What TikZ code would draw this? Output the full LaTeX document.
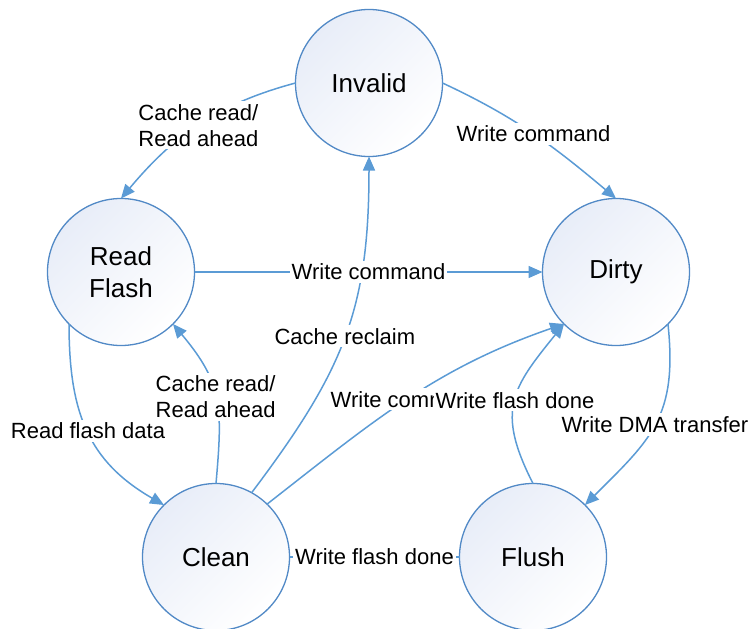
\documentclass[tikz,border=0pt]{standalone}
\usepackage{fontspec}
\setmainfont{Liberation Sans}
\usetikzlibrary{arrows.meta}
\definecolor{edgeblue}{HTML}{5B9BD5}
\definecolor{ringblue}{HTML}{5189C6}
\definecolor{fillblue}{HTML}{E8EDF8}

\begin{document}
\begin{tikzpicture}[x=1pt,y=1pt,
  state/.style={circle, draw=ringblue, line width=1.3pt, minimum size=147pt,
    inner sep=0pt, outer sep=0pt, top color=fillblue, bottom color=white,
    shading angle=45, font=\fontsize{26}{32}\selectfont, align=center},
  trans/.style={draw=edgeblue, line width=1.5pt, -{Triangle[length=14pt,width=12pt]}},
  link/.style={draw=edgeblue, line width=1.5pt},
  lbl/.style={fill=white, inner xsep=2pt, inner ysep=3pt,
    font=\fontsize{22}{26}\selectfont, align=center}]

\useasboundingbox (0,0) rectangle (753,-629);

% cache line states
\node[state] (inv) at (369,-83)  {Invalid};
\node[state] (rf)  at (121,-272) {Read\\Flash};
\node[state] (dt)  at (616,-272) {Dirty};
\node[state] (cl)  at (216,-557) {Clean};
\node[state] (fl)  at (533,-557) {Flush};

% transitions
\draw[trans] (inv.180) to[out=195,in=50] coordinate[midway] (m1) (rf.90);
\draw[trans] (inv.0) to[out=-25,in=140] coordinate[midway] (m2) (dt.90);
\draw[trans] (rf.east) -- coordinate[midway] (m3) (dt.west);
\draw[trans] (rf.225) to[out=270,in=150,looseness=1.1] coordinate[midway] (m4) (cl.135);
\draw[trans] (cl.90) to[out=85,in=-50,looseness=1.2] coordinate[midway] (m5) (rf.-45);
\draw[trans] (cl.61) to[out=53,in=270,looseness=1.1] coordinate[midway] (m6) (inv.270);
\draw[trans] (cl.46) to[out=38,in=199] coordinate[midway] (m7) (dt.225);
\draw[trans] (fl.90) to[out=117,in=231,looseness=1.3] coordinate[midway] (m8) (dt.225);
\draw[trans] (dt.-45) to[out=276,in=45,looseness=1.2] coordinate[midway] (m9) (fl.45);
\draw[link] (cl.east) -- coordinate[midway] (m10) (fl.west);

% transition labels (the later ones sit on top of the earlier ones)
\node[lbl] at (m1) {Cache read/\\Read ahead};
\node[lbl] at (m2) {Write command};
\node[lbl] at (m3) {Write command};
\node[lbl] at (m4) {Read flash data};
\node[lbl] at (m5) {Cache read/\\Read ahead};
\node[lbl] at (m6) {Cache reclaim};
\node[lbl] at (m7) {Write command};
\node[lbl] at (m8) {Write flash done};
\node[lbl] at (m9) {Write DMA transfer};
\node[lbl] at (m10) {Write flash done};
\end{tikzpicture}
\end{document}
